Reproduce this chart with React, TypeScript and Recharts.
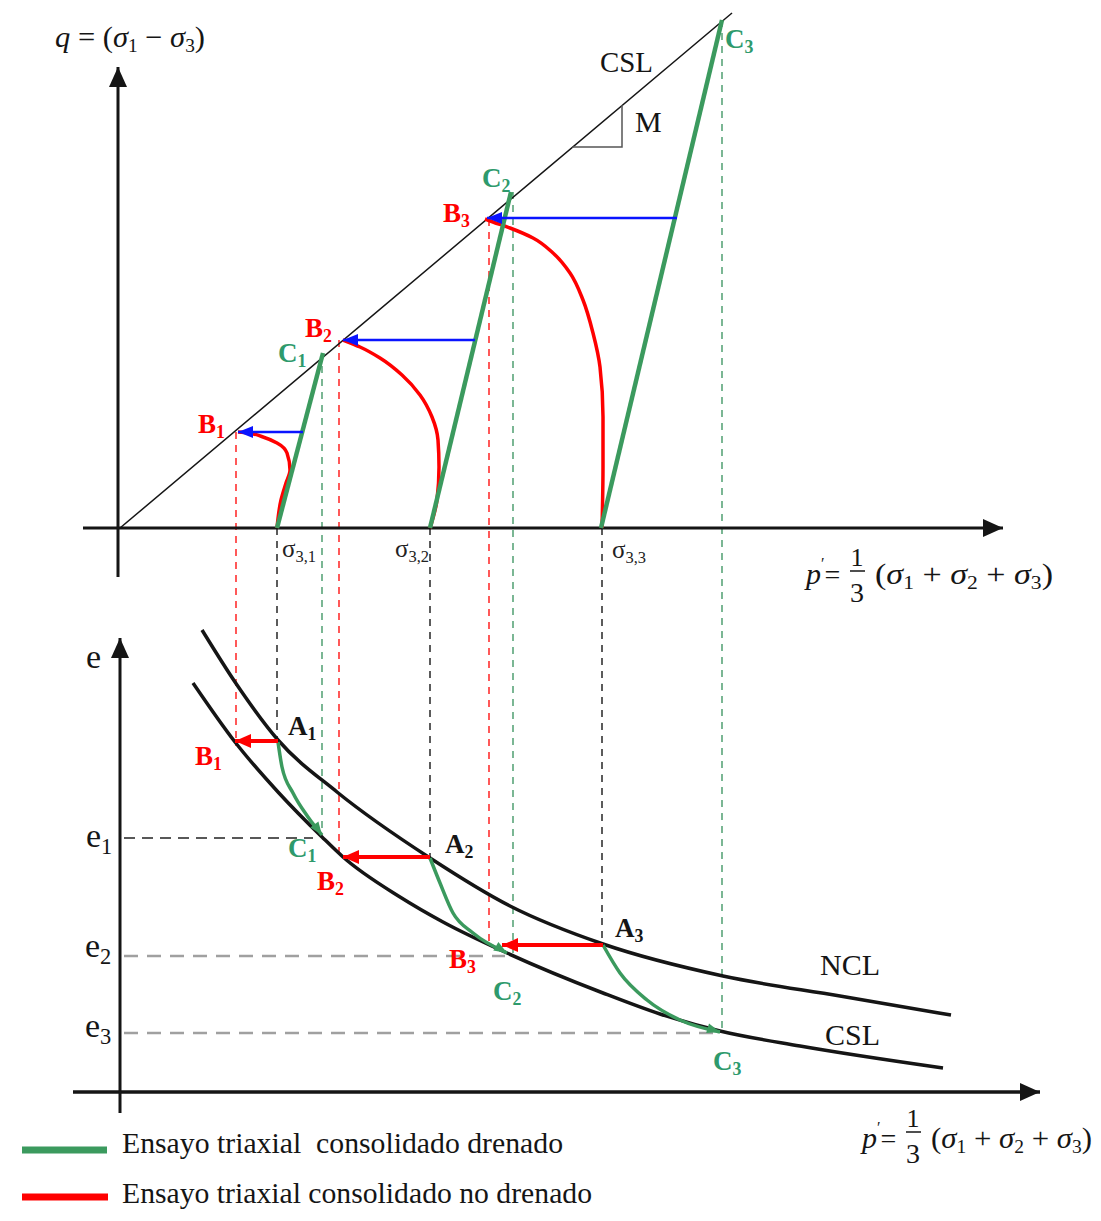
import React from "react";
import { ComposedChart, Line, XAxis, YAxis } from "recharts";

// p' (horizontal) shared by both panels; q in the upper panel, e in the lower one.
// The e-panel origin sits E_SHIFT units below the q-panel origin.
const E_SHIFT = 56.4;
const P_DOMAIN: [number, number] = [-12, 98.1];
const Q_DOMAIN: [number, number] = [-69.3, 52.8];
const E_DOMAIN: [number, number] = [Q_DOMAIN[0] + E_SHIFT, Q_DOMAIN[1] + E_SHIFT];

// ---- upper panel: q - p'
const cslTopP = [0, 61.2];
const cslTopQ = [0, 51.5];

const sigma3 = [15.7, 31.0, 48.1];
const drainedTopEndP = [20.3, 39.1, 60.2];
const drainedTopEndQ = [17.5, 33.6, 50.8];

const undrained1P = [15.7, 16.1, 16.6, 17.0, 16.7, 15.7, 14.3, 12.8, 11.8];
const undrained1Q = [0, 2.8, 4.5, 5.8, 7.5, 8.5, 9.1, 9.5, 9.6];
const undrained2P = [31.0, 31.7, 31.9, 31.8, 31.2, 30.0, 28.2, 26.0, 24.0, 22.3];
const undrained2Q = [0, 2.8, 6.1, 8.8, 11.1, 13.3, 15.3, 17.0, 18.1, 18.8];
const undrained3P = [48.2, 48.3, 48.3, 48.0, 47.3, 46.3, 45.0, 43.3, 41.3, 39.0, 37.3, 36.5];
const undrained3Q = [0, 6.1, 11.1, 16.1, 19.5, 22.8, 25.5, 27.5, 29.0, 30.0, 30.6, 30.9];

const blueFromP = [18.3, 35.5, 55.7];
const blueToP = [11.8, 22.3, 36.7];
const blueQ = [9.6, 18.8, 31.0];

const slopeP = [45.2, 50.2, 50.2];
const slopeQ = [38.1, 38.1, 42.3];

// ---- lower panel: e - p'
const nclP = [8.2, 11.5, 15.8, 21.7, 31.0, 39.0, 48.3, 60.3, 72.0, 83.1];
const nclE = [46.2, 41.0, 35.2, 30.0, 23.4, 18.6, 14.8, 11.6, 9.6, 7.7];
const cslBotP = [7.3, 11.5, 15.8, 20.2, 22.3, 28.0, 32.3, 38.7, 48.3, 54.0, 60.0, 68.0, 82.3];
const cslBotE = [40.9, 35.0, 30.0, 25.5, 23.5, 19.5, 17.0, 13.9, 9.9, 7.8, 6.1, 4.6, 2.4];

const drainedBot = [
  { p: [15.8, 16.2, 17.3, 18.8, 20.2], e: [35.0, 32.5, 29.9, 27.5, 25.7], end: 54 },
  { p: [31.0, 32.0, 33.3, 35.3, 38.7], e: [23.4, 20.9, 17.9, 15.9, 13.9], end: 31 },
  { p: [48.3, 50.0, 52.7, 56.0, 60.0], e: [14.7, 11.9, 9.2, 7.2, 6.0], end: 17 },
];

const redFromP = [15.8, 31.0, 48.3];
const redToP = [11.5, 22.3, 38.2];
const redE = [35.1, 23.5, 14.7];

// vertical projections between panels
const projP = [11.6, 15.7, 20.2, 21.9, 31.0, 36.9, 39.3, 48.2, 60.2];
const projQ = [9.6, 0, 17.5, 18.8, 0, 30.9, 33.6, 0, 50.8];
const projE = [34.6, 35.2, 25.7, 23.5, 23.4, 14.7, 13.9, 14.7, 6.0];
const projKind = ["u", "s", "d", "u", "s", "u", "d", "s", "d"];

// horizontal void-ratio guides e1, e2, e3
const guideE = [25.4, 13.6, 5.9];
const guideEndP = [19.3, 38.5, 59.5];

const GREEN = "#3b9a5e";
const GREEN_TXT = "#2e9a6c";
const RED = "#ff0000";
const BLUE = "#0a14ff";
const INK = "#151515";
const SERIF = '"Liberation Serif", "Times New Roman", serif';

const qPts = (ps: number[], qs: number[]) => ps.map((p, i) => ({ p, q: qs[i] }));
const ePts = (ps: number[], es: number[]) => ps.map((p, i) => ({ p, e: es[i] }));

function arrowAt(last: number, angle: number, len: number, half: number, color: string) {
  return (props: any) => {
    const { cx, cy, index } = props;
    if (index !== last || cx == null || cy == null) return <g key={`n${index}`} />;
    const a = (angle * Math.PI) / 180;
    const bx = cx - len * Math.cos(a);
    const by = cy - len * Math.sin(a);
    const px = -Math.sin(a) * half;
    const py = Math.cos(a) * half;
    return (
      <polygon
        key={`a${index}`}
        points={`${cx},${cy} ${bx + px},${by + py} ${bx - px},${by - py}`}
        fill={color}
      />
    );
  };
}

function Sub({ x, y, base, sub, color, size, bold }: any) {
  return (
    <text x={x} y={y} fill={color} fontFamily={SERIF} fontSize={size} fontWeight={bold ? 700 : 400}>
      <tspan>{base}</tspan>
      {sub ? (
        <tspan fontSize={size * 0.66} dy={size * 0.2}>
          {sub}
        </tspan>
      ) : null}
    </text>
  );
}

const pointLabels = [
  ["C", "3", 725, 48, GREEN_TXT],
  ["C", "2", 482, 187, GREEN_TXT],
  ["B", "3", 443, 222, RED],
  ["B", "2", 305, 337, RED],
  ["C", "1", 278, 362, GREEN_TXT],
  ["B", "1", 198, 433, RED],
  ["A", "1", 288, 735, INK],
  ["B", "1", 195, 765, RED],
  ["C", "1", 288, 857, GREEN_TXT],
  ["B", "2", 317, 890, RED],
  ["A", "2", 445, 853, INK],
  ["B", "3", 449, 968, RED],
  ["C", "2", 493, 1000, GREEN_TXT],
  ["A", "3", 615, 937, INK],
  ["C", "3", 713, 1070, GREEN_TXT],
];

const eLabels = [
  ["e", "", 86, 668],
  ["e", "1", 86, 847],
  ["e", "2", 85, 957],
  ["e", "3", 85, 1037],
];

const sigmaLabels = [
  ["3,1", 282, 557],
  ["3,2", 395, 557],
  ["3,3", 612, 558],
];

function PFormula({ x, y, bar, w }: { x: number; y: number; bar: number; w: number }) {
  return (
    <g fontFamily={SERIF} fill={INK}>
      <text x={x} y={y} fontSize={30}>
        <tspan fontStyle="italic">p</tspan>
        <tspan fontSize={16} dy={-15}>′</tspan>
        <tspan fontSize={28} dy={15}>=</tspan>
      </text>
      <text x={x + 51} y={bar - 5} fontSize={26} textAnchor="middle">1</text>
      <line x1={x + 44} x2={x + 59} y1={bar} y2={bar} stroke={INK} strokeWidth={1.5} />
      <text x={x + 51} y={bar + 31} fontSize={28} textAnchor="middle">3</text>
      <text x={x + 69} y={y} fontSize={30} textLength={w} lengthAdjust="spacingAndGlyphs">
        (<tspan fontStyle="italic">σ</tspan>
        <tspan fontSize={19} dy={5}>1</tspan>
        <tspan dy={-5}> + </tspan>
        <tspan fontStyle="italic">σ</tspan>
        <tspan fontSize={19} dy={5}>2</tspan>
        <tspan dy={-5}> + </tspan>
        <tspan fontStyle="italic">σ</tspan>
        <tspan fontSize={19} dy={5}>3</tspan>
        <tspan dy={-5}>)</tspan>
      </text>
    </g>
  );
}

export default function App() {
  const common = { isAnimationActive: false, activeDot: false as const, legendType: "none" as const };
  return (
    <div style={{ position: "absolute", left: 0, top: 0, width: 1101, height: 1221, background: "#fff" }}>
      <ComposedChart width={1101} height={1221} margin={{ top: 0, right: 0, bottom: 0, left: 0 }}>
        <XAxis type="number" dataKey="p" domain={P_DOMAIN} allowDataOverflow hide />
        <YAxis yAxisId="q" type="number" domain={Q_DOMAIN} allowDataOverflow hide />
        <YAxis yAxisId="e" type="number" domain={E_DOMAIN} allowDataOverflow hide />

        {/* projections between panels */}
        {projP.map((p, i) => (
          <Line
            key={`proj${i}`}
            {...common}
            yAxisId="q"
            dataKey="q"
            data={[{ p, q: projQ[i] }, { p, q: projE[i] - E_SHIFT }]}
            stroke={projKind[i] === "u" ? "#ff3030" : projKind[i] === "d" ? "#5aa57a" : "#333"}
            strokeWidth={1.6}
            strokeDasharray="7 6"
            dot={false}
          />
        ))}
        {guideE.map((e, i) => (
          <Line
            key={`guide${i}`}
            {...common}
            yAxisId="e"
            dataKey="e"
            data={[{ p: 0.4, e }, { p: guideEndP[i], e }]}
            stroke={i === 0 ? "#222" : "#a0a0a0"}
            strokeWidth={i === 0 ? 1.5 : 2.5}
            strokeDasharray={i === 0 ? "11 7" : "14 9"}
            dot={false}
          />
        ))}

        {/* axes */}
        <Line {...common} yAxisId="q" dataKey="q" data={qPts([-3.7, 88.3], [0, 0])} stroke={INK} strokeWidth={3} dot={arrowAt(1, 0, 20, 9, INK)} />
        <Line {...common} yAxisId="q" dataKey="q" data={qPts([-0.2, -0.2], [-4.9, 46.1])} stroke={INK} strokeWidth={3} dot={arrowAt(1, -90, 20, 9, INK)} />
        <Line {...common} yAxisId="e" dataKey="e" data={ePts([-4.7, 92], [0, 0])} stroke={INK} strokeWidth={3.5} dot={arrowAt(1, 0, 20, 9, INK)} />
        <Line {...common} yAxisId="e" dataKey="e" data={ePts([0, 0], [-2.1, 45.4])} stroke={INK} strokeWidth={3} dot={arrowAt(1, -90, 20, 9, INK)} />

        {/* upper panel */}
        <Line {...common} yAxisId="q" dataKey="q" data={qPts(cslTopP, cslTopQ)} stroke={INK} strokeWidth={1.5} dot={false} />
        <Line {...common} yAxisId="q" dataKey="q" data={qPts(slopeP, slopeQ)} stroke="#555" strokeWidth={1.5} dot={false} />
        {[
          [undrained1P, undrained1Q],
          [undrained2P, undrained2Q],
          [undrained3P, undrained3Q],
        ].map(([ps, qs], i) => (
          <Line key={`ut${i}`} {...common} type="monotoneY" yAxisId="q" dataKey="q" data={qPts(ps, qs)} stroke={RED} strokeWidth={3.5} dot={false} />
        ))}
        {sigma3.map((p, i) => (
          <Line
            key={`dt${i}`}
            {...common}
            yAxisId="q"
            dataKey="q"
            data={[{ p, q: 0 }, { p: drainedTopEndP[i], q: drainedTopEndQ[i] }]}
            stroke={GREEN}
            strokeWidth={4.5}
            dot={false}
          />
        ))}
        {blueFromP.map((p, i) => (
          <Line
            key={`bl${i}`}
            {...common}
            yAxisId="q"
            dataKey="q"
            data={[{ p, q: blueQ[i] }, { p: blueToP[i], q: blueQ[i] }]}
            stroke={BLUE}
            strokeWidth={2.5}
            dot={arrowAt(1, 180, 15, 6, BLUE)}
          />
        ))}

        {/* lower panel */}
        <Line {...common} type="monotoneX" yAxisId="e" dataKey="e" data={ePts(nclP, nclE)} stroke={INK} strokeWidth={3.5} dot={false} />
        <Line {...common} type="monotoneX" yAxisId="e" dataKey="e" data={ePts(cslBotP, cslBotE)} stroke={INK} strokeWidth={3.5} dot={false} />
        {drainedBot.map((d, i) => (
          <Line
            key={`db${i}`}
            {...common}
            type="monotoneX"
            yAxisId="e"
            dataKey="e"
            data={ePts(d.p, d.e)}
            stroke={GREEN}
            strokeWidth={3.5}
            dot={arrowAt(d.p.length - 1, d.end, 13, 5, GREEN)}
          />
        ))}
        {redFromP.map((p, i) => (
          <Line
            key={`rb${i}`}
            {...common}
            yAxisId="e"
            dataKey="e"
            data={[{ p, e: redE[i] }, { p: redToP[i], e: redE[i] }]}
            stroke={RED}
            strokeWidth={4}
            dot={arrowAt(1, 180, 16, 7, RED)}
          />
        ))}
      </ComposedChart>

      <svg width={1101} height={1221} style={{ position: "absolute", left: 0, top: 0, pointerEvents: "none" }}>
        <text x={55} y={47} fontFamily={SERIF} fontSize={30} fill={INK} textLength={150} lengthAdjust="spacingAndGlyphs">
          <tspan fontStyle="italic">q</tspan>
          <tspan> = (</tspan>
          <tspan fontStyle="italic">σ</tspan>
          <tspan fontSize={19} dy={5}>1</tspan>
          <tspan dy={-5}> − </tspan>
          <tspan fontStyle="italic">σ</tspan>
          <tspan fontSize={19} dy={5}>3</tspan>
          <tspan dy={-5}>)</tspan>
        </text>
        <text x={600} y={72} fontFamily={SERIF} fontSize={30} fill={INK} textLength={53} lengthAdjust="spacingAndGlyphs">CSL</text>
        <text x={635} y={132} fontFamily={SERIF} fontSize={30} fill={INK}>M</text>
        <text x={820} y={975} fontFamily={SERIF} fontSize={30} fill={INK} textLength={60} lengthAdjust="spacingAndGlyphs">NCL</text>
        <text x={825} y={1045} fontFamily={SERIF} fontSize={30} fill={INK} textLength={55} lengthAdjust="spacingAndGlyphs">CSL</text>

        {pointLabels.map(([b, s, x, y, c], i) => (
          <Sub key={`pl${i}`} x={x} y={y} base={b} sub={s} color={c} size={27} bold />
        ))}
        {eLabels.map(([b, s, x, y], i) => (
          <Sub key={`el${i}`} x={x} y={y} base={b} sub={s} color={INK} size={34} />
        ))}
        {sigmaLabels.map(([s, x, y], i) => (
          <Sub key={`sl${i}`} x={x} y={y} base="σ" sub={s} color="#222" size={25} />
        ))}

        <PFormula x={806} y={584} bar={571} w={178} />
        <PFormula x={862} y={1148} bar={1132} w={161} />

        <line x1={22} x2={107} y1={1150} y2={1150} stroke={GREEN} strokeWidth={7} />
        <line x1={22} x2={108} y1={1197} y2={1197} stroke={RED} strokeWidth={7} />
        <text x={122} y={1153} fontFamily={SERIF} fontSize={29} fill={INK} textLength={441} lengthAdjust="spacingAndGlyphs" xmlSpace="preserve">
          Ensayo triaxial  consolidado drenado
        </text>
        <text x={122} y={1203} fontFamily={SERIF} fontSize={29} fill={INK} textLength={470} lengthAdjust="spacingAndGlyphs">
          Ensayo triaxial consolidado no drenado
        </text>
      </svg>
    </div>
  );
}
